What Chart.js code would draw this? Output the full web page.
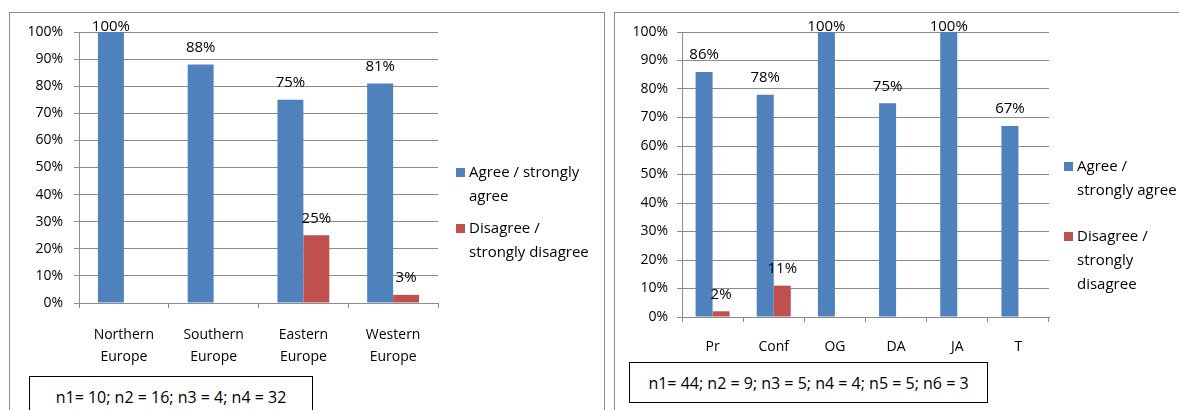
<!DOCTYPE html>
<html>
<head>
<meta charset="utf-8">
<script src="https://cdn.jsdelivr.net/npm/chart.js@4.4.0/dist/chart.umd.min.js"></script>
<style>
  body { margin: 0; background: #fff; width: 1179px; height: 410px; overflow: hidden; position: relative; font-family: "Open Sans", sans-serif; }
  .frame { position: absolute; border: 1px solid #8c8c8c; box-sizing: border-box; }
  canvas { position: absolute; top: 0; }
  .note { position: absolute; border: 1px solid #000; box-sizing: border-box; font: 16px "Open Sans", sans-serif; color: #000;
          display: flex; align-items: center; justify-content: center; background: #fff; white-space: nowrap; }
</style>
</head>
<body>
<div class="frame" style="left:9px; top:12px; width:596px; height:420px;"></div>
<div class="frame" style="left:614px; top:12px; width:600px; height:420px;"></div>
<canvas id="regionChart" style="left:0px;" width="608" height="410"></canvas>
<canvas id="groupChart" style="left:608px;" width="571" height="410"></canvas>
<div class="note" id="regionNote" style="left:29px; top:376px; width:284px; height:42px;"></div>
<div class="note" id="groupNote" style="left:629px; top:362px; width:359px; height:41px;"></div>
<script>
// agreement by region
const regionLabels = [['Northern', 'Europe'], ['Southern', 'Europe'], ['Eastern', 'Europe'], ['Western', 'Europe']];
const regionAgree = [100, 88, 75, 81];
const regionDisagree = [0, 0, 25, 3];
const regionNote = 'n1= 10; n2 = 16; n3 = 4; n4 = 32';

// agreement by group
const groupLabels = ['Pr', 'Conf', 'OG', 'DA', 'JA', 'T'];
const groupAgree = [86, 78, 100, 75, 100, 67];
const groupDisagree = [2, 11, 0, 0, 0, 0];
const groupNote = 'n1= 44; n2 = 9; n3 = 5; n4 = 4; n5 = 5; n6 = 3';

const blue = '#4f81bd';
const red = '#c0504d';
const gray = '#8c8c8c';
const FONT = '"Open Sans", sans-serif';

document.getElementById('regionNote').textContent = regionNote;
document.getElementById('groupNote').textContent = groupNote;

// value labels above bars + a legend with wrapped lines on the right
const barNotes = {
    id: 'barNotes',
    afterDatasetsDraw(chart, args, opts) {
        const ctx = chart.ctx;
        const top = chart.chartArea.top;
        ctx.save();
        ctx.font = '15px ' + FONT;
        ctx.fillStyle = '#000';
        ctx.textAlign = 'center';
        ctx.textBaseline = 'middle';
        chart.data.datasets.forEach((ds, i) => {
            chart.getDatasetMeta(i).data.forEach((bar, j) => {
                const v = ds.data[j];
                if (!v) return;
                ctx.fillText(v + '%', bar.x, Math.max(bar.y - 17, top - 5));
            });
        });

        ctx.textAlign = 'left';
        chart.data.datasets.forEach((ds, i) => {
            const y0 = opts.rows[i];
            ctx.fillStyle = ds.backgroundColor;
            ctx.fillRect(opts.x, y0 - 5, 9, 9);
            ctx.fillStyle = '#000';
            opts.lines[i].forEach((line, k) => {
                ctx.fillText(line, opts.x + 13, y0 + k * 24);
            });
        });
        ctx.restore();
    }
};

function makeChart(id, labels, agree, disagree, cfg) {
    return new Chart(document.getElementById(id).getContext('2d'), {
        type: 'bar',
        data: {
            labels: labels,
            datasets: [{
                label: 'Agree / strongly agree',
                data: agree,
                backgroundColor: blue,
                categoryPercentage: cfg.cat,
                barPercentage: 1
            }, {
                label: 'Disagree / strongly disagree',
                data: disagree,
                backgroundColor: red,
                categoryPercentage: cfg.cat,
                barPercentage: 1
            }]
        },
        options: {
            responsive: false,
            animation: false,
            layout: { padding: { top: 32, left: 0, right: cfg.right, bottom: cfg.bottom } },
            plugins: {
                legend: { display: false },
                tooltip: { enabled: false },
                barNotes: { x: 456, rows: cfg.rows, lines: cfg.lines }
            },
            scales: {
                x: {
                    grid: { offset: true, drawOnChartArea: false, tickLength: 5, color: gray },
                    border: { color: gray },
                    ticks: { color: '#000', font: { family: FONT, size: 14, lineHeight: 22 / 14 }, padding: cfg.xPad, maxRotation: 0 },
                    afterFit: s => { s.height = cfg.xHeight; }
                },
                y: {
                    min: 0,
                    max: 100,
                    grid: { color: gray, tickLength: 5 },
                    border: { color: gray },
                    ticks: { stepSize: 10, color: '#000', font: { family: FONT, size: 14 }, padding: cfg.yPad, callback: v => v + '%' },
                    afterFit: s => { s.width = cfg.yWidth; }
                }
            }
        },
        plugins: [barNotes]
    });
}

makeChart('regionChart', regionLabels, regionAgree, regionDisagree, {
    cat: 0.578, right: 170, bottom: 27, xHeight: 80, xPad: 16, yPad: 11, yWidth: 79,
    rows: [173, 229],
    lines: [['Agree / strongly', 'agree'], ['Disagree /', 'strongly disagree']]
});

makeChart('groupChart', groupLabels, groupAgree, groupDisagree, {
    cat: 0.556, right: 130, bottom: 33, xHeight: 60, xPad: 14, yPad: 9, yWidth: 74,
    rows: [167, 237],
    lines: [['Agree /', 'strongly agree'], ['Disagree /', 'strongly', 'disagree']]
});
</script>
</body>
</html>
